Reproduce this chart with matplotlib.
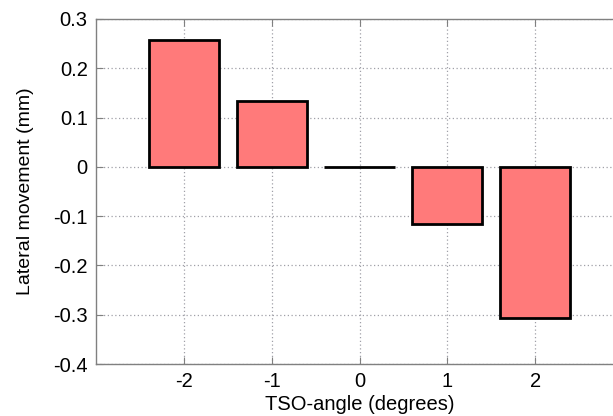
import matplotlib
matplotlib.use("Agg")
import matplotlib.pyplot as plt

angles = [-2, -1, 0, 1, 2]
movement = [0.257, 0.134, 0.0, -0.115, -0.307]
yticks = [-0.4, -0.3, -0.2, -0.1, 0, 0.1, 0.2, 0.3]
ytick_labels = ["-0.4", "-0.3", "-0.2", "-0.1", "0", "0.1", "0.2", "0.3"]

plt.rcParams['font.family'] = ['Liberation Sans', 'DejaVu Sans']

fig = plt.figure(figsize=(6.13, 4.16), dpi=100)
ax = fig.add_axes([96/613, 1-364/416, (623-96)/613, (364-19)/416])

ax.bar(angles, movement, width=0.8, color='#ff7a7a', edgecolor='black', linewidth=2.0, zorder=3)

ax.set_xlim(-3, 3)
ax.set_ylim(-0.4, 0.3)
ax.set_xticks(angles)
ax.set_xticklabels([str(a) for a in angles])
ax.set_yticks(yticks)
ax.set_yticklabels(ytick_labels)

ax.grid(True, linestyle=(0, (1, 2)), color='#a0a0a8', linewidth=0.9, zorder=0)
ax.set_axisbelow(True)
for s in ax.spines.values():
    s.set_color('#808080')
    s.set_linewidth(1.0)
ax.tick_params(direction='in', length=5, color='#808080', labelsize=14.5, top=True, right=True, pad=6)

ax.set_xlabel('TSO-angle (degrees)', fontsize=14.5, labelpad=3)
ax.set_ylabel('Lateral movement (mm)', fontsize=14, labelpad=14)

fig.savefig('out.png', dpi=100)
